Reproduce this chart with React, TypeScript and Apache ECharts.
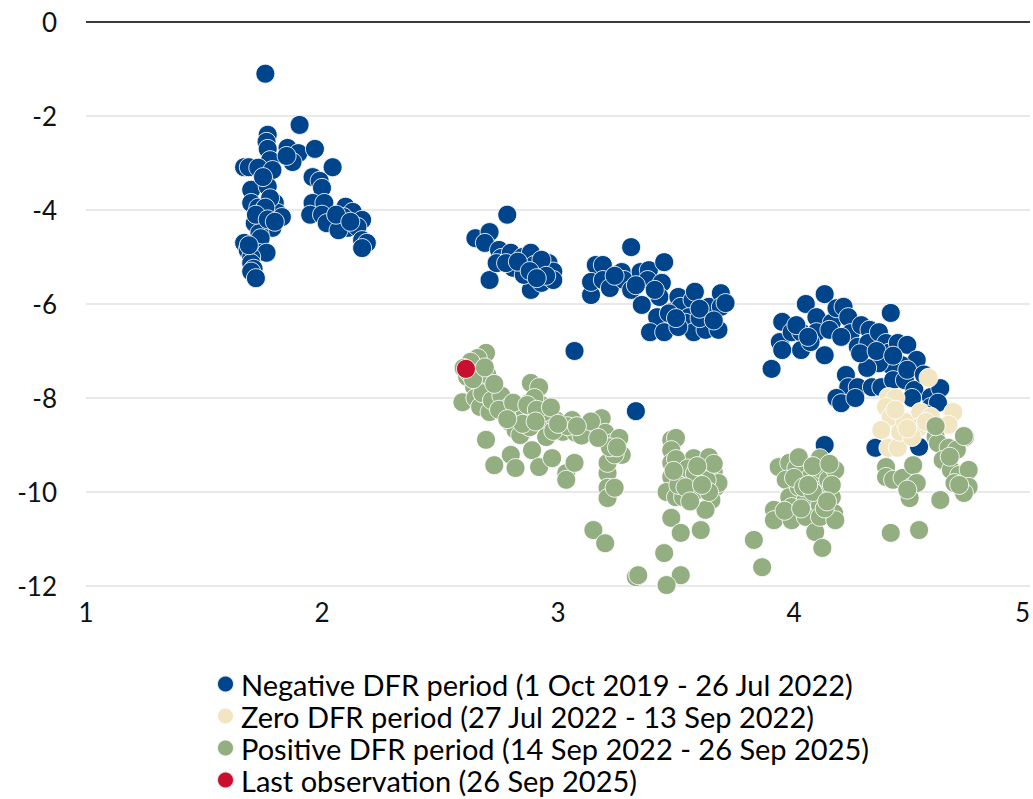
import React, { useEffect, useRef } from "react";
import * as echarts from "echarts";

const yTicks = [0, -2, -4, -6, -8, -10, -12];
const xTicks = [1, 2, 3, 4, 5];

const seriesNames = [
  "Negative DFR period (1 Oct 2019 - 26 Jul 2022)",
  "Zero DFR period (27 Jul 2022 - 13 Sep 2022)",
  "Positive DFR period (14 Sep 2022 - 26 Sep 2025)",
  "Last observation (26 Sep 2025)",
];

const negativeData = [
  [1.76, -1.1], [1.77, -2.4], [1.765, -2.55], [1.77, -2.7], [1.78, -2.94], [1.67, -3.09], [1.69, -3.09], [1.73, -3.1],
  [1.79, -3.15], [1.70, -3.57], [1.77, -3.5], [1.75, -3.3], [1.70, -3.85], [1.745, -4.06], [1.80, -3.85], [1.81, -4.06],
  [1.715, -4.28], [1.76, -4.36], [1.79, -4.38], [1.735, -4.49], [1.83, -4.15], [1.73, -3.95], [1.78, -3.75], [1.76, -3.95],
  [1.72, -4.1], [1.77, -4.2], [1.80, -4.25], [1.74, -4.6], [1.67, -4.7], [1.685, -4.85], [1.73, -4.91], [1.765, -4.91],
  [1.70, -5.0], [1.70, -5.13], [1.71, -5.25], [1.70, -5.31], [1.72, -5.45], [1.69, -4.75],
  [1.905, -2.19], [1.854, -2.68], [1.90, -2.79], [1.875, -2.98], [1.97, -2.70], [2.045, -3.09], [1.96, -3.3], [1.99, -3.38],
  [2.0, -3.53], [1.96, -3.85], [2.01, -3.85], [1.95, -4.1], [2.0, -4.1], [2.02, -4.28], [2.10, -3.93], [2.13, -4.04],
  [2.09, -4.15], [2.11, -4.38], [2.17, -4.21], [2.15, -4.36], [2.17, -4.64], [2.19, -4.7], [2.17, -4.81], [2.07, -4.43],
  [2.06, -4.1], [2.12, -4.25], [1.85, -2.85],
  [2.785, -4.1], [2.65, -4.6], [2.71, -4.47], [2.69, -4.7], [2.71, -5.49], [2.75, -4.85], [2.76, -5.02], [2.80, -4.91],
  [2.81, -5.23], [2.85, -5.0], [2.885, -4.91], [2.90, -5.17], [2.885, -5.70], [2.93, -5.55], [2.96, -5.13], [2.98, -5.31],
  [2.98, -5.49], [2.92, -5.31], [2.855, -5.38], [2.74, -5.13], [2.93, -5.06], [2.78, -5.13], [2.83, -5.1], [2.88, -5.3],
  [2.95, -5.4], [2.91, -5.45],
  [3.31, -4.79], [3.14, -5.81], [3.16, -5.17], [3.19, -5.17], [3.14, -5.53], [3.19, -5.49], [3.22, -5.66], [3.27, -5.32],
  [3.28, -5.49], [3.31, -5.70], [3.35, -5.32], [3.385, -5.28], [3.38, -5.49], [3.45, -5.11], [3.44, -5.55], [3.43, -5.85],
  [3.355, -6.02], [3.42, -6.28], [3.39, -6.6], [3.45, -6.6], [3.48, -6.17], [3.51, -5.85], [3.52, -6.06], [3.57, -5.91],
  [3.58, -5.74], [3.555, -6.28], [3.54, -6.4], [3.575, -6.6], [3.625, -6.55], [3.63, -6.23], [3.64, -6.06], [3.69, -5.77],
  [3.69, -6.06], [3.68, -6.55], [3.71, -5.98], [3.51, -6.49], [3.47, -6.2], [3.60, -6.3], [3.24, -5.4], [3.33, -5.6],
  [3.41, -5.7], [3.50, -6.3], [3.60, -6.1], [3.66, -6.35],
  [3.07, -7.0], [3.33, -8.28],
  [4.13, -5.79], [4.05, -6.0], [4.41, -6.19], [3.95, -6.38], [3.94, -6.81], [3.95, -6.98], [3.905, -7.38], [3.99, -6.6],
  [4.03, -6.6], [4.03, -6.98], [4.095, -6.28], [4.095, -6.6], [4.07, -6.81], [4.13, -7.09], [4.16, -6.4], [4.18, -6.09],
  [4.21, -6.06], [4.23, -6.28], [4.24, -6.62], [4.285, -6.45], [4.27, -6.91], [4.32, -6.55], [4.315, -6.83], [4.36, -6.6],
  [4.39, -6.83], [4.40, -7.04], [4.44, -6.83], [4.48, -6.87], [4.52, -7.19], [4.455, -7.3], [4.41, -7.3], [4.36, -7.26],
  [4.31, -7.36], [4.22, -7.51], [4.23, -7.77], [4.18, -8.0], [4.20, -8.11], [4.27, -7.77], [4.33, -7.77], [4.37, -7.77],
  [4.42, -7.62], [4.47, -7.62], [4.51, -7.83], [4.58, -7.98], [4.58, -8.19], [4.26, -8.0], [4.62, -7.79], [4.61, -8.1],
  [4.345, -9.06], [4.53, -9.04], [4.13, -9.0], [4.01, -6.45], [4.06, -6.7], [4.15, -6.55], [4.20, -6.7], [4.28, -7.05],
  [4.35, -7.0], [4.42, -7.1], [4.48, -7.4], [4.55, -7.5], [4.50, -8.0], [4.56, -8.35],
];

const zeroData = [
  [4.57, -7.57], [4.40, -7.98], [4.43, -8.0], [4.39, -8.19], [4.41, -8.40], [4.37, -8.68], [4.40, -9.06], [4.44, -9.06],
  [4.45, -8.72], [4.47, -8.51], [4.535, -8.30], [4.53, -8.62], [4.58, -8.40], [4.62, -8.62], [4.675, -8.30], [4.655, -8.57],
  [4.50, -8.83], [4.56, -8.51], [4.43, -8.25], [4.48, -8.65],
];

const positiveData = [
  [2.695, -7.04], [2.66, -7.15], [2.63, -7.23], [2.60, -7.36], [2.615, -7.55], [2.595, -8.09], [2.645, -7.77], [2.65, -8.0],
  [2.67, -8.19], [2.71, -8.30], [2.715, -7.68], [2.74, -7.89], [2.76, -8.11], [2.78, -8.32], [2.80, -8.53], [2.82, -8.68],
  [2.84, -8.79], [2.885, -7.68], [2.92, -7.77], [2.88, -8.09], [2.93, -8.15], [2.92, -8.40], [2.88, -8.62], [2.96, -8.53],
  [2.95, -8.83], [2.99, -8.47], [3.02, -8.72], [3.06, -8.47], [3.075, -8.74], [3.12, -8.62], [3.16, -8.68], [3.185, -8.43],
  [3.20, -8.74], [3.23, -8.96], [3.26, -8.85], [3.27, -9.21], [3.21, -9.6], [3.21, -9.91], [3.21, -10.13], [3.24, -9.91],
  [2.695, -8.89], [2.73, -9.43], [2.80, -9.21], [2.82, -9.49], [2.89, -9.11], [2.92, -9.47], [2.975, -9.28], [3.035, -9.6],
  [3.035, -9.74], [3.07, -9.38], [3.15, -10.81], [3.20, -11.09], [3.33, -11.81], [3.21, -9.38], [3.24, -9.2], [2.70, -7.5],
  [2.68, -7.9], [2.72, -8.05], [2.76, -7.95], [2.79, -8.2], [2.83, -8.4], [2.86, -8.3], [2.90, -8.0], [2.94, -8.3],
  [2.98, -8.7], [3.04, -8.6], [3.10, -8.8], [3.14, -8.5], [3.22, -9.05], [2.62, -7.45],
  [2.64, -7.6], [2.69, -7.35], [2.73, -7.7], [2.75, -8.25], [2.81, -8.1], [2.85, -8.55], [2.87, -8.15], [2.91, -8.25],
  [2.97, -8.2], [3.0, -8.55], [3.08, -8.6], [3.17, -8.85], [3.25, -9.05], [2.785, -8.45], [2.905, -8.5],
  [3.48, -8.89], [3.50, -8.85], [3.48, -9.11], [3.48, -9.38], [3.48, -9.68], [3.46, -10.0], [3.50, -10.11], [3.575, -9.28],
  [3.64, -9.26], [3.66, -9.57], [3.67, -9.89], [3.65, -10.17], [3.625, -10.38], [3.575, -9.91], [3.545, -9.70], [3.53, -10.11],
  [3.60, -9.68], [3.62, -9.96], [3.68, -9.81], [3.52, -9.49], [3.48, -10.55], [3.52, -10.87], [3.605, -10.81], [3.45, -11.30],
  [3.52, -11.77], [3.46, -11.98], [3.34, -11.77], [3.50, -9.3], [3.55, -9.5], [3.58, -9.6], [3.63, -9.75], [3.51, -9.85],
  [3.57, -10.05], [3.66, -9.4], [3.49, -9.55], [3.54, -9.9], [3.59, -9.45], [3.64, -10.0], [3.56, -10.2], [3.61, -9.85],
  [3.83, -11.02], [3.865, -11.6], [3.915, -10.38], [3.915, -10.6], [3.935, -9.47], [3.98, -9.38], [4.01, -9.49], [4.02, -9.26],
  [3.965, -9.74], [3.98, -10.11], [3.99, -10.32], [3.99, -10.6], [4.02, -9.89], [4.05, -10.17], [4.05, -10.53], [4.07, -9.68],
  [4.09, -10.85], [4.11, -9.28], [4.12, -9.53], [4.12, -9.96], [4.11, -10.28], [4.11, -10.53], [4.145, -9.74], [4.16, -10.11],
  [4.17, -10.45], [4.175, -9.53], [4.12, -11.19], [4.175, -10.6], [4.00, -9.7], [4.04, -9.9], [4.08, -10.0], [4.13, -10.35],
  [4.16, -9.85], [3.96, -10.4], [4.03, -10.35], [4.08, -9.45], [4.14, -10.2], [4.06, -9.85], [4.15, -9.4],
  [4.39, -9.47], [4.39, -9.68], [4.42, -9.74], [4.46, -9.70], [4.505, -9.43], [4.50, -9.89], [4.49, -10.13], [4.52, -9.81],
  [4.41, -10.87], [4.53, -10.81], [4.60, -8.83], [4.61, -8.96], [4.655, -9.06], [4.725, -8.83], [4.63, -9.32], [4.665, -9.53],
  [4.70, -9.64], [4.74, -9.53], [4.68, -9.81], [4.74, -9.89], [4.72, -10.02], [4.62, -10.17], [4.69, -9.1], [4.60, -8.6],
  [4.72, -8.81], [4.48, -9.95], [4.66, -9.25], [4.70, -9.85],
];

const lastData = [[2.61, -7.38]];

const colors = ["#00448b", "#f2e5c2", "#93ae80", "#c8102e"];

export default function App() {
  const ref = useRef<HTMLDivElement>(null);
  useEffect(() => {
    if (!ref.current) return;
    const chart = echarts.init(ref.current, null, { renderer: "svg" });
    const font = "Lato, 'Noto Sans', sans-serif";
    const mk = (name: string, data: number[][], color: string) => ({
      name,
      type: "scatter",
      data,
      symbol: "circle",
      symbolSize: 19,
      itemStyle: { color, borderColor: "rgba(255,255,255,0.85)", borderWidth: 1, opacity: 1 },
      emphasis: { disabled: true },
    });
    const series: any[] = [
      mk(seriesNames[0], negativeData, colors[0]),
      mk(seriesNames[1], zeroData, colors[1]),
      mk(seriesNames[2], positiveData, colors[2]),
      mk(seriesNames[3], lastData, colors[3]),
    ];
    series[0].markLine = {
      silent: true,
      symbol: "none",
      label: { show: false },
      lineStyle: { color: "#000", width: 1.5, type: "solid" },
      data: [{ yAxis: yTicks[0] }],
    };
    chart.setOption({
      animation: false,
      textStyle: { fontFamily: font },
      grid: { left: 86, right: 2, top: 22, bottom: 213, containLabel: false },
      xAxis: {
        type: "value",
        min: xTicks[0],
        max: xTicks[xTicks.length - 1],
        interval: 1,
        axisLine: { show: false },
        axisTick: { show: false },
        splitLine: { show: false },
        axisLabel: {
          fontSize: 26,
          color: "#111",
          margin: 13,
          fontFamily: font,
          alignMaxLabel: "right",
        },
      },
      yAxis: {
        type: "value",
        min: yTicks[yTicks.length - 1],
        max: yTicks[0],
        interval: 2,
        axisLine: { show: false },
        axisTick: { show: false },
        splitLine: { show: true, lineStyle: { color: "#e2e2e2", width: 1.5 } },
        axisLabel: { fontSize: 26, color: "#111", margin: 29, fontFamily: font },
      },
      legend: {
        orient: "vertical",
        left: 216,
        top: 669,
        height: 130,
        padding: 0,
        itemGap: 2,
        itemWidth: 17,
        itemHeight: 17,
        icon: "circle",
        textStyle: { fontSize: 29, lineHeight: 30, color: "#000", fontFamily: font, padding: [0, 0, 0, 2] },
        data: seriesNames,
        selectedMode: false,
      },
      series,
    });
    return () => chart.dispose();
  }, []);
  return <div ref={ref} style={{ width: 1033, height: 799, position: "absolute", left: 0, top: 0 }} />;
}
